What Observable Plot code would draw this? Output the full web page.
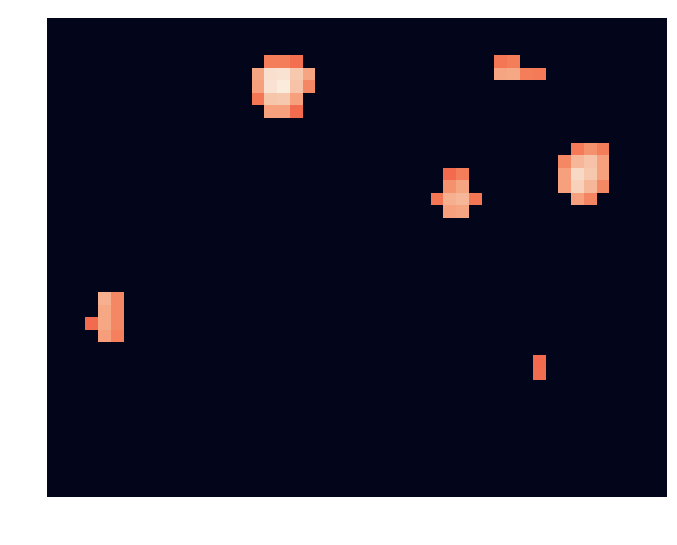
<!DOCTYPE html>
<html>
<head>
<meta charset="utf-8">
<script src="https://cdn.jsdelivr.net/npm/d3@7"></script>
<script src="https://cdn.jsdelivr.net/npm/@observablehq/plot@0.6"></script>
<style>
  html, body { margin: 0; padding: 0; background: #ffffff; }
  #chart svg { display: block; }
</style>
</head>
<body>
<div id="chart"></div>
<script>
// Grid size (cells) and visible extent of the axes (in cell units)
const nCols = 49;
const nRows = 39;
const xExtent = [0, 48.5];
const yExtent = [0, 38.4];

// Non-zero cells: column index, row index (from top), normalised value
const cellCol = [
  17, 18, 19,
  16, 17, 18, 19, 20,
  16, 17, 18, 19, 20,
  16, 17, 18, 19,
  17, 18, 19,
  35, 36,
  35, 36, 37, 38,
  31, 32,
  31, 32,
  30, 31, 32, 33,
  31, 32,
  41, 42, 43,
  40, 41, 42, 43,
  40, 41, 42, 43,
  40, 41, 42, 43,
  41, 42,
  4, 5,
  4, 5,
  3, 4, 5,
  4, 5,
  38, 38
];
const cellRow = [
  3, 3, 3,
  4, 4, 4, 4, 4,
  5, 5, 5, 5, 5,
  6, 6, 6, 6,
  7, 7, 7,
  3, 3,
  4, 4, 4, 4,
  12, 12,
  13, 13,
  14, 14, 14, 14,
  15, 15,
  10, 10, 10,
  11, 11, 11, 11,
  12, 12, 12, 12,
  13, 13, 13, 13,
  14, 14,
  22, 22,
  23, 23,
  24, 24, 24,
  25, 25,
  27, 28
];
const cellValue = [
  0.77, 0.77, 0.73,
  0.85, 0.975, 0.98, 0.92, 0.85,
  0.84, 0.98, 1.0, 0.91, 0.79,
  0.75, 0.915, 0.92, 0.84,
  0.84, 0.84, 0.72,
  0.75, 0.77,
  0.85, 0.855, 0.77, 0.76,
  0.72, 0.77,
  0.81, 0.85,
  0.75, 0.87, 0.885, 0.75,
  0.84, 0.85,
  0.76, 0.81, 0.77,
  0.79, 0.885, 0.91, 0.84,
  0.84, 0.96, 0.92, 0.84,
  0.84, 0.94, 0.885, 0.79,
  0.84, 0.785,
  0.87, 0.79,
  0.855, 0.79,
  0.72, 0.855, 0.79,
  0.835, 0.775,
  0.72, 0.725
];

// Rocket-like colour ramp stops
const colorStops = [0, 0.3, 0.55, 0.65, 0.72, 0.77, 0.85, 0.92, 1.0];
const colorRange = ["#03051a", "#4c1d4b", "#b1175a", "#e43841", "#f26b4e", "#f47e5a", "#f6a582", "#f6c8ae", "#faebdd"];

// Build full grid table
const lookup = new Map();
cellCol.forEach((c, i) => lookup.set(c + "," + cellRow[i], cellValue[i]));
const grid = [];
for (let r = 0; r < nRows; r++) {
  for (let c = 0; c < nCols; c++) {
    grid.push({col: c, row: r, value: lookup.get(c + "," + r) ?? 0});
  }
}

const chart = Plot.plot({
  width: 677,
  height: 545,
  marginLeft: 47,
  marginRight: 10,
  marginTop: 18,
  marginBottom: 48,
  x: {domain: xExtent, axis: null},
  y: {domain: yExtent, reverse: true, axis: null},
  color: {type: "linear", domain: colorStops, range: colorRange, interpolate: "rgb"},
  marks: [
    Plot.rect(grid, {
      x1: "col",
      x2: d => d.col + 1,
      y1: "row",
      y2: d => d.row + 1,
      fill: "value",
      clip: true,
      shapeRendering: "crispEdges"
    })
  ]
});
document.getElementById("chart").appendChild(chart);
</script>
</body>
</html>
